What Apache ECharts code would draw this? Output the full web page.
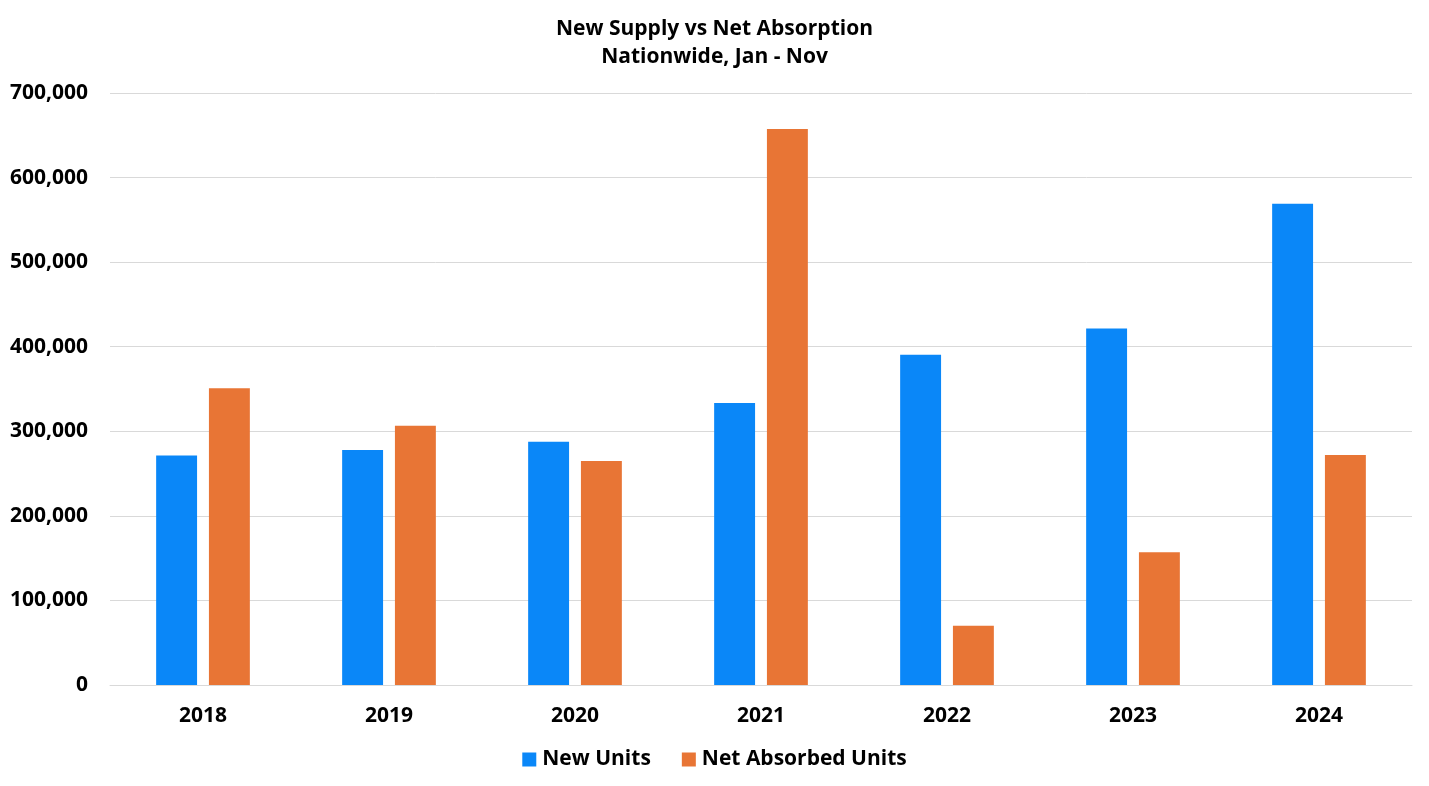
<!DOCTYPE html>
<html><head><meta charset="utf-8">
<script src="https://cdn.jsdelivr.net/npm/echarts@6/dist/echarts.min.js"></script>
<style>html,body{margin:0;padding:0;background:#fff}#c{width:1429px;height:786px}</style>
</head><body><div id="c"></div>
<script>
const categories = ['2018','2019','2020','2021','2022','2023','2024'];
const newUnits = [271500, 278000, 287500, 333500, 390500, 421500, 569000];
const netAbsorbed = [351000, 306500, 265000, 657500, 70000, 157000, 272000];
const seriesNames = ['New Units', 'Net Absorbed Units'];

const chart = echarts.init(document.getElementById('c'));
const font = '"Open Sans", "Noto Sans", sans-serif';
chart.setOption({
  backgroundColor: '#fff',
  animation: false,
  title: {
    text: 'New Supply vs Net Absorption\nNationwide, Jan - Nov',
    left: 'center', top: 10,
    textStyle: {fontFamily: font, fontSize: 21, fontWeight: 'bold', color: '#000', lineHeight: 28}
  },
  legend: {
    data: seriesNames, bottom: 11, left: 'center',
    itemWidth: 14, itemHeight: 14, itemGap: 31, icon: 'rect',
    textStyle: {fontFamily: font, fontSize: 21, fontWeight: 'bold', color: '#000', padding: [0,0,0,1]}
  },
  grid: {left: 110, right: 17, top: 93, bottom: 101},
  xAxis: {
    type: 'category', data: categories,
    axisLine: {lineStyle: {color: '#d9d9d9'}}, axisTick: {show: false},
    axisLabel: {fontFamily: font, fontSize: 21, fontWeight: 'bold', color: '#000', margin: 21}
  },
  yAxis: {
    type: 'value', min: 0, max: 700000, interval: 100000,
    axisLine: {show: false}, axisTick: {show: false},
    splitLine: {lineStyle: {color: '#d9d9d9'}},
    axisLabel: {fontFamily: font, fontSize: 21, fontWeight: 'bold', color: '#000', margin: 22,
      formatter: v => v.toLocaleString('en-US')}
  },
  series: [
    {name: seriesNames[0], type: 'bar', data: newUnits, barWidth: '22%', barGap: '29%', itemStyle: {color: '#0A87F8'}},
    {name: seriesNames[1], type: 'bar', data: netAbsorbed, barWidth: '22%', itemStyle: {color: '#E87535'}}
  ]
});
</script></body></html>
